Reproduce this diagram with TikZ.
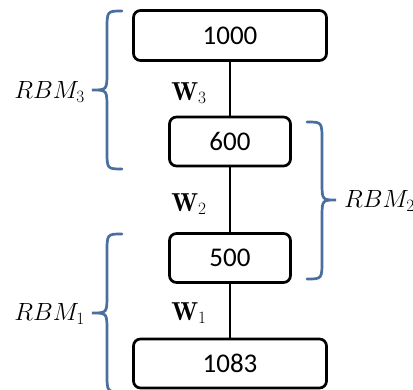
\documentclass[tikz,border=0pt]{standalone}
\usepackage{fontspec}
\newfontfamily\numfont{Carlito}
\definecolor{bracecol}{HTML}{4A6F9E}
\begin{document}
\begin{tikzpicture}[x=1pt,y=-1pt,
  layer/.style={draw=black,line width=2.7pt,rounded corners=7pt,inner sep=0pt,
    font=\numfont\fontsize{27}{30}\selectfont},
  link/.style={draw=black,line width=2.7pt},
  bracestyle/.style={draw=bracecol,line width=2.7pt,line cap=round},
  wlab/.style={inner sep=0pt,font=\fontsize{26}{30}\selectfont},
  rbmlab/.style={inner sep=0pt,font=\fontsize{23}{28}\selectfont}]
\useasboundingbox (0,0) rectangle (413,390);
% layers
\node[layer,minimum width=193pt,minimum height=50pt] (b1000) at (230,35.5) {1000};
\node[layer,minimum width=121pt,minimum height=49pt] (b600) at (230,141.5) {600};
\node[layer,minimum width=121pt,minimum height=49pt] (b500) at (230,258) {500};
\node[layer,minimum width=193pt,minimum height=49pt] (b1083) at (230,363.5) {1083};
% connectors
\draw[link] (b1000) -- (b600);
\draw[link] (b600) -- (b500);
\draw[link] (b500) -- (b1083);
% weights
\node[wlab] (w3) at (189,93) {$\mathbf{W}_3$};
\node[wlab] (w2) at (189,204) {$\mathbf{W}_2$};
\node[wlab] (w1) at (189,313) {$\mathbf{W}_1$};
% braces
\draw[bracestyle] (122,11) .. controls (107,11) .. (107,30) -- (107,72)
  .. controls (107,90) .. (92,90) .. controls (107,90) .. (107,108)
  -- (107,150) .. controls (107,169) .. (122,169);
\draw[bracestyle] (307,122) .. controls (322,122) .. (322,141) -- (322,182)
  .. controls (322,200) .. (336,200) .. controls (322,200) .. (322,218)
  -- (322,260) .. controls (322,279) .. (307,279);
\draw[bracestyle] (122,234) .. controls (107,234) .. (107,253) -- (107,295)
  .. controls (107,313) .. (92,313) .. controls (107,313) .. (107,331)
  -- (107,373) .. controls (107,392) .. (122,392);
% brace labels
\node[rbmlab,anchor=east] (r3) at (85,92) {$RBM_3$};
\node[rbmlab,anchor=west] (r2) at (344,201) {$RBM_2$};
\node[rbmlab,anchor=east] (r1) at (85,314) {$RBM_1$};
\end{tikzpicture}
\end{document}
